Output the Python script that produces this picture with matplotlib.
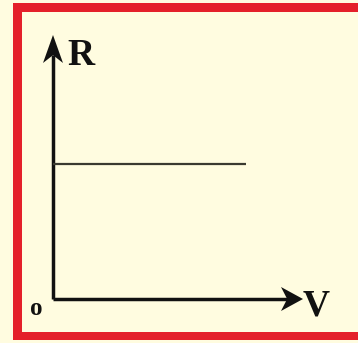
import matplotlib
matplotlib.use("Agg")
import matplotlib.pyplot as plt
from matplotlib.patches import Rectangle, Polygon

# data
V = [0.0, 7.7]
R = [5.1, 5.1]
x_label = "V"
y_label = "R"
origin_label = "o"

W, H = 358, 343
cream = "#FFFCE0"
red = "#E4202A"
ink = "#111111"

fig = plt.figure(figsize=(W / 100, H / 100), dpi=100, facecolor=cream)

# overlay in pixel coordinates for frame and decorations
ov = fig.add_axes([0, 0, 1, 1])
ov.set_xlim(0, W)
ov.set_ylim(H, 0)
ov.axis("off")
ov.patch.set_alpha(0)

# red frame (left, top, bottom; right side cropped)
ov.add_patch(Rectangle((13, 3), 9, 337, color=red, lw=0))
ov.add_patch(Rectangle((13, 3), W, 9, color=red, lw=0))
ov.add_patch(Rectangle((13, 332), W, 8, color=red, lw=0))

ox, oy = 53, 299
ytip, xtip = 35, 303

# axis lines
ov.plot([ox, ox], [oy, ytip + 20], color=ink, lw=2.5, solid_capstyle="butt")
ov.plot([ox, xtip - 15], [oy, oy], color=ink, lw=2.5, solid_capstyle="butt")

# notched arrow heads
L, Wd = 28, 10
ov.add_patch(Polygon([(ox, ytip), (ox - Wd, ytip + L), (ox, ytip + 0.72 * L),
                      (ox + Wd, ytip + L)], closed=True, color=ink, lw=0))
L2, W2 = 22, 12
ov.add_patch(Polygon([(xtip, oy), (xtip - L2, oy - W2), (xtip - 0.72 * L2, oy),
                      (xtip - L2, oy + W2)], closed=True, color=ink, lw=0))

serif = ["Liberation Serif", "DejaVu Serif"]
ov.text(67, 65, y_label, fontsize=27, family=serif, weight="bold", color=ink,
        ha="left", va="baseline")
ov.text(303, 315, x_label, fontsize=27, family=serif, weight="bold", color=ink,
        ha="left", va="baseline")
ov.text(36, 315, origin_label, fontsize=18, family=serif, weight="bold", color=ink,
        ha="center", va="baseline")

# data axes
ax = fig.add_axes([ox / W, (H - oy) / H, (xtip - ox) / W, (oy - ytip) / H])
ax.set_xlim(0, 10)
ax.set_ylim(0, 10)
ax.axis("off")
ax.patch.set_alpha(0)
ax.plot(V, R, color="#3A3A30", lw=1.6, solid_capstyle="butt")

fig.savefig("out.png", dpi=100, facecolor=cream)
